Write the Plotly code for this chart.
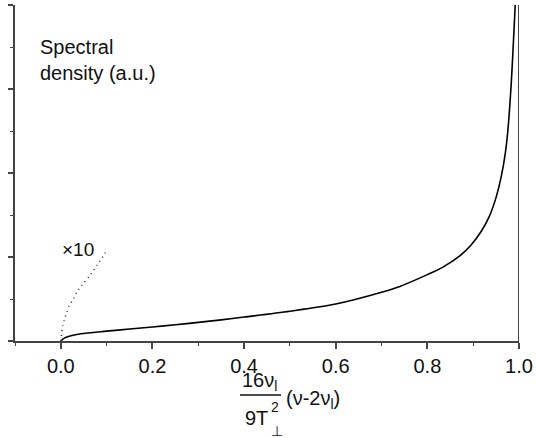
import plotly.graph_objects as go

# Solid curve: spectral density vs reduced frequency
x_solid = [0.0, 0.0076, 0.022, 0.044, 0.1, 0.15, 0.2, 0.25, 0.3, 0.35, 0.4, 0.5,
           0.6, 0.7, 0.74, 0.8, 0.834, 0.87, 0.895, 0.917, 0.935, 0.95, 0.961,
           0.97, 0.9756, 0.983, 0.988, 0.9917, 0.995]
y_solid = [0.0, 0.034, 0.062, 0.086, 0.117, 0.143, 0.167, 0.193, 0.222, 0.252,
           0.285, 0.355, 0.44, 0.58, 0.65, 0.79, 0.88, 1.01, 1.14, 1.30, 1.48,
           1.71, 1.95, 2.23, 2.5, 3.06, 3.58, 4.0, 4.5]

# Dotted curve: low-frequency part magnified x10
x_dot = [0.0, 0.004, 0.0076, 0.0135, 0.0186, 0.026, 0.035, 0.05, 0.062, 0.08,
         0.095, 0.1]
y_dot = [0.0, 0.175, 0.25, 0.345, 0.425, 0.485, 0.583, 0.69, 0.77, 0.91, 1.03,
         1.08]

x_tickvals = [0.0, 0.2, 0.4, 0.6, 0.8, 1.0]
x_ticktext = ["0.0", "0.2", "0.4", "0.6", "0.8", "1.0"]
y_tickvals = [0, 1, 2, 3, 4]

FONT = "Liberation Sans, Arial, Helvetica, sans-serif"
AX = "#444444"

fig = go.Figure()
fig.add_trace(go.Scatter(x=x_solid, y=y_solid, mode="lines",
                         line=dict(color="black", width=1.6, shape="spline",
                                   smoothing=0.8),
                         showlegend=False))
fig.add_trace(go.Scatter(x=x_dot, y=y_dot, mode="lines",
                         line=dict(color="#333333", width=1.5, dash="1px,4px",
                                   shape="spline", smoothing=0.6),
                         showlegend=False))

L, R, T, B = 15, 17, 5, 97
W, H = 536, 438
pw, ph = W - L - R, H - T - B


def px(xp):
    return (xp - L) / pw


def py(yp):
    return (H - B - yp) / ph


fig.update_layout(
    width=W, height=H,
    margin=dict(l=L, r=R, t=T, b=B, autoexpand=False),
    paper_bgcolor="white", plot_bgcolor="white",
    font=dict(family=FONT, size=20, color="#111111"),
    xaxis=dict(range=[-0.1, 1.0], tickvals=x_tickvals, ticktext=x_ticktext,
               showgrid=False, zeroline=False, showline=True, linecolor=AX,
               linewidth=2, ticks="outside", ticklen=6, tickwidth=1.5,
               tickcolor=AX, tickfont=dict(size=20, color="#111111"),
               automargin=False,
               minor=dict(dtick=0.1, tick0=0, ticks="outside", ticklen=3,
                          tickwidth=1.2, tickcolor=AX)),
    yaxis=dict(range=[0, 4], tickvals=y_tickvals, showticklabels=False,
               showgrid=False, zeroline=False, showline=True, linecolor=AX,
               linewidth=2, ticks="outside", ticklen=5, tickwidth=1.5,
               tickcolor=AX, automargin=False,
               minor=dict(dtick=0.5, tick0=0, ticks="outside", ticklen=3,
                          tickwidth=1.2, tickcolor=AX)),
)

# right boundary line at x = 1
fig.add_shape(type="line", xref="x", yref="paper", x0=1.0, x1=1.0, y0=0, y1=1,
              line=dict(color=AX, width=2))

# fraction bar of x-axis title
fig.add_shape(type="line", xref="paper", yref="paper", x0=px(240), x1=px(281),
              y0=py(395), y1=py(395), line=dict(color="#111111", width=1.3))

ann = [
    dict(text="Spectral<br>density (a.u.)", x=px(38), y=py(34), xanchor="left",
         yanchor="top", align="left", font=dict(size=20)),
    dict(text="×10", x=px(78), y=py(249), xanchor="center", yanchor="middle",
         font=dict(size=19)),
    dict(text="16ν<sub>l</sub>", x=px(259), y=py(381), xanchor="center",
         yanchor="middle", font=dict(size=20)),
    dict(text="9T", x=px(256), y=py(418), xanchor="center", yanchor="middle",
         font=dict(size=20)),
    dict(text="2", x=px(275), y=py(407), xanchor="center", yanchor="middle",
         font=dict(size=14)),
    dict(text="⊥", x=px(277), y=py(431), xanchor="center", yanchor="middle",
         font=dict(size=14, family="DejaVu Sans")),
    dict(text="(ν-2ν<sub>l</sub>)", x=px(284), y=py(399), xanchor="left",
         yanchor="middle", font=dict(size=20)),
]
for a in ann:
    fig.add_annotation(xref="paper", yref="paper", showarrow=False, **a)

fig.write_html("out.html",
               config={"displayModeBar": False},
               post_script="document.body.style.margin='0';"
                           "document.body.style.overflow='hidden';")
